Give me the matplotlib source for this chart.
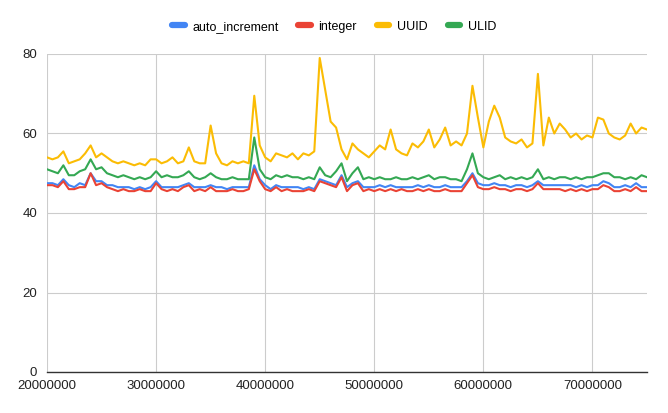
import numpy as np
import matplotlib.pyplot as plt

plt.rcParams['font.family'] = ['Liberation Sans', 'DejaVu Sans']

# x: 20M .. 75M sampled every 0.5M
x_start, x_step, n = 20_000_000, 500_000, 111
x = x_start + x_step * np.arange(n)

uuid = [54, 53.5, 54, 55.5, 52.5, 53, 53.5, 55, 57, 54,
        55, 54, 53, 52.5, 53, 52.5, 52, 52.5, 52, 53.5,
        53.5, 52.5, 53, 54, 52.5, 53, 56.5, 53, 52.5, 52.5,
        62, 55, 52.5, 52, 53, 52.5, 53, 52.5, 69.5, 57,
        54, 53, 55, 54.5, 54, 55, 53.5, 55, 54.5, 55.5,
        79, 71, 63, 61.5, 56, 53.5, 57.5, 56, 55, 54,
        55.5, 57, 56, 61, 56, 55, 54.5, 57.5, 56.5, 58,
        61, 56.5, 58.5, 61.5, 57, 58, 57, 60, 72, 64,
        56.5, 63, 67, 64, 59, 58, 57.5, 58.5, 56.5, 57.5,
        75, 57, 64, 60, 62.5, 61, 59, 60, 58.5, 59.5,
        59, 64, 63.5, 60, 59, 58.5, 59.5, 62.5, 60, 61.5,
        61]

ulid = [51, 50.5, 50, 52, 49.5, 49.5, 50.5, 51, 53.5, 51,
        51.5, 50, 49.5, 49, 49.5, 49, 48.5, 49, 48.5, 49,
        50.5, 49, 49.5, 49, 49, 49.5, 50.5, 49, 48.5, 49,
        50, 49, 48.5, 48.5, 49, 48.5, 48.5, 48.5, 59, 51,
        49, 48.5, 49.5, 49, 49.5, 49, 49, 48.5, 49, 48.5,
        51.5, 49.5, 49, 50.5, 52.5, 48, 50, 51.5, 48.5, 49,
        48.5, 49, 48.5, 48.5, 49, 48.5, 48.5, 49, 48.5, 49,
        49.5, 48.5, 49, 49, 48.5, 48.5, 48, 51, 55, 50,
        49, 48.5, 49, 49.5, 48.5, 49, 48.5, 49, 48.5, 49,
        51, 48.5, 49, 48.5, 49, 49, 48.5, 49, 48.5, 49,
        49, 49.5, 50, 50, 49, 49, 48.5, 49, 48.5, 49.5,
        49]

auto_inc = [47.5, 47.5, 47, 48.5, 47, 46.5, 47.5, 47, 50, 48,
            48, 47, 47, 46.5, 46.5, 46.5, 46, 46.5, 46, 46.5,
            48, 46.5, 46.5, 46.5, 46.5, 47, 47.5, 46.5, 46.5, 46.5,
            47, 46.5, 46.5, 46, 46.5, 46.5, 46.5, 46.5, 52, 48.5,
            47, 46, 47, 46.5, 46.5, 46.5, 46.5, 46, 46.5, 46,
            48.5, 48, 47.5, 47, 49.5, 46.5, 47.5, 48, 46.5, 46.5,
            46.5, 47, 46.5, 47, 46.5, 46.5, 46.5, 46.5, 47, 46.5,
            47, 46.5, 46.5, 47, 46.5, 46.5, 46.5, 48, 50, 47.5,
            47, 47, 47.5, 47, 47, 46.5, 47, 47, 46.5, 47,
            48, 47, 47, 47, 47, 47, 47, 46.5, 47, 46.5,
            47, 47, 48, 47.5, 46.5, 46.5, 47, 46.5, 47.5, 46.5,
            46.5]

integer = [47, 47, 46.5, 48, 46, 46, 46.5, 46.5, 50, 47,
           47.5, 46.5, 46, 45.5, 46, 45.5, 45.5, 46, 45.5, 45.5,
           47.5, 46, 45.5, 46, 45.5, 46.5, 47, 45.5, 46, 45.5,
           46.5, 45.5, 45.5, 45.5, 46, 45.5, 45.5, 46, 51, 48,
           46, 45.5, 46.5, 45.5, 46, 45.5, 45.5, 45.5, 46, 45.5,
           48, 47.5, 47, 46.5, 49, 45.5, 47, 47.5, 45.5, 46,
           45.5, 46, 45.5, 46, 45.5, 46, 45.5, 45.5, 46, 45.5,
           46, 45.5, 45.5, 46, 45.5, 45.5, 45.5, 47.5, 49.5, 46.5,
           46, 46, 46.5, 46, 46, 45.5, 46, 46, 45.5, 46,
           47.5, 46, 46, 46, 46, 45.5, 46, 45.5, 46, 45.5,
           46, 46, 47, 46.5, 45.5, 45.5, 46, 45.5, 46.5, 45.5,
           45.5]

series = [('auto_increment', auto_inc, '#4285F4'),
          ('integer', integer, '#EA4335'),
          ('UUID', uuid, '#FBBC04'),
          ('ULID', ulid, '#34A853')]

fig = plt.figure(figsize=(6.68, 4.13), dpi=100)
ax = fig.add_axes([47/668, 41/413, 600/668, 318/413])

for name, vals, col in series:
    ax.plot(x, vals, color=col, lw=1.5, label=name)

ax.set_xlim(20_000_000, 75_000_000)
ax.set_ylim(0, 80)
ax.set_xticks(np.arange(20_000_000, 75_000_001, 10_000_000))
ax.set_xticklabels([str(v) for v in range(20_000_000, 75_000_001, 10_000_000)])
ax.set_yticks([0, 20, 40, 60, 80])
ax.grid(True, color='#cccccc', lw=0.8)
ax.set_axisbelow(True)
for s in ['top', 'right', 'left']:
    ax.spines[s].set_visible(False)
ax.spines['bottom'].set_color('#333333')
ax.spines['bottom'].set_linewidth(1.0)
ax.tick_params(length=0, labelsize=9.5, colors='#222222')
ax.tick_params(axis='y', pad=7)
ax.tick_params(axis='x', pad=5.5)

fig.legend(loc='center', bbox_to_anchor=(0.5, 0.935), ncol=4, frameon=False,
           fontsize=9, handlelength=1.0, handletextpad=0.6, columnspacing=1.6)
for h in fig.legends[0].get_lines():
    h.set_linewidth(4.5)
    h.set_solid_capstyle('round')

fig.savefig('out.png', dpi=100)
